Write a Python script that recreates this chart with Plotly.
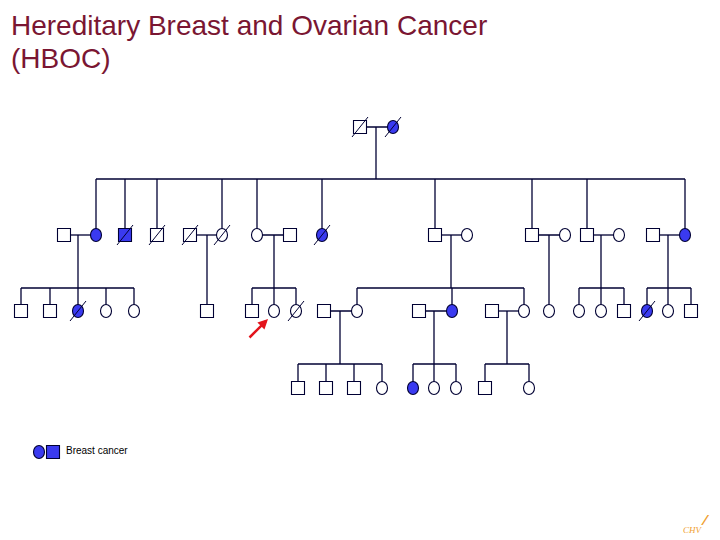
import plotly.graph_objects as go

# ---------------- data ----------------
title_lines = ["Hereditary Breast and Ovarian Cancer", "(HBOC)"]
legend_label = "Breast cancer"

gen_y = [127, 235, 311, 388]          # row of each generation
sib_y = [179, 288, 364]               # sibship line below generation g

# individuals
ind_x   = [360, 393,
           64, 96, 125, 157, 190, 222, 257, 290, 322, 435, 467, 532, 565, 587, 619, 653, 685,
           21, 50, 78, 106, 134, 207, 252, 274, 296, 324, 357, 419, 452, 492, 524, 549, 579, 601, 624, 647, 668, 691,
           298, 326, 354, 382, 413, 434, 456, 485, 529]
ind_gen = [0, 0,
           1, 1, 1, 1, 1, 1, 1, 1, 1, 1, 1, 1, 1, 1, 1, 1, 1,
           2, 2, 2, 2, 2, 2, 2, 2, 2, 2, 2, 2, 2, 2, 2, 2, 2, 2, 2, 2, 2, 2,
           3, 3, 3, 3, 3, 3, 3, 3, 3]
ind_sex = ["M", "F",
           "M", "F", "M", "M", "M", "F", "F", "M", "F", "M", "F", "M", "F", "M", "F", "M", "F",
           "M", "M", "F", "F", "F", "M", "M", "F", "F", "M", "F", "M", "F", "M", "F", "F", "F", "F", "M", "F", "F", "M",
           "M", "M", "M", "F", "F", "F", "F", "M", "F"]
ind_aff = [0, 1,
           0, 1, 1, 0, 0, 0, 0, 0, 1, 0, 0, 0, 0, 0, 0, 0, 1,
           0, 0, 1, 0, 0, 0, 0, 0, 0, 0, 0, 0, 1, 0, 0, 0, 0, 0, 0, 1, 0, 0,
           0, 0, 0, 0, 1, 0, 0, 0, 0]
ind_dec = [1, 1,
           0, 0, 1, 1, 1, 1, 0, 0, 1, 0, 0, 0, 0, 0, 0, 0, 0,
           0, 0, 1, 0, 0, 0, 0, 0, 1, 0, 0, 0, 0, 0, 0, 0, 0, 0, 0, 1, 0, 0,
           0, 0, 0, 0, 0, 0, 0, 0, 0]

# marriages: partner x positions, generation, x of the line down to children
mar_a    = [360, 64, 190, 257, 435, 532, 587, 653, 324, 419, 492]
mar_b    = [393, 96, 222, 290, 467, 565, 619, 685, 357, 452, 524]
mar_gen  = [0, 1, 1, 1, 1, 1, 1, 1, 2, 2, 2]
mar_drop = [376, 78, 207, 274, 451, 549, 601, 668, 340, 434, 507]

# children of each marriage (x positions in the next generation)
sib_children = [
    [96, 125, 157, 222, 257, 322, 435, 532, 587, 685],
    [21, 50, 78, 106, 134],
    [207],
    [252, 274, 296],
    [357, 452, 524],
    [549],
    [579, 601, 624],
    [647, 668, 691],
    [298, 326, 354, 382],
    [413, 434, 456],
    [485, 529],
]

proband_x, proband_gen = 274, 2
legend_sym_x = [39, 53]
legend_sym_sex = ["F", "M"]
legend_y = 452

# ---------------- style ----------------
LINE = "#000033"
BLUE = "#3a3af0"
SQ = 6.5          # half side of square
EW, EH = 5.5, 6.5 # half axes of ellipse
PAGE_OFF = 8      # page body margin of the html page

fig = go.Figure()

# connecting lines
lx, ly = [], []
for a, b, g, d, kids in zip(mar_a, mar_b, mar_gen, mar_drop, sib_children):
    y0 = gen_y[g]
    lx += [a, b, None]; ly += [y0, y0, None]
    sy = sib_y[g]
    lx += [d, d, None]; ly += [y0, sy, None]
    lo, hi = min(kids + [d]), max(kids + [d])
    lx += [lo, hi, None]; ly += [sy, sy, None]
    for k in kids:
        lx += [k, k, None]; ly += [sy, gen_y[g + 1], None]

fig.add_trace(go.Scatter(x=lx, y=ly, mode="lines",
                         line=dict(color=LINE, width=1.3),
                         hoverinfo="skip", showlegend=False))

shapes = []
def symbol(x, y, sex, fill):
    if sex == "M":
        shapes.append(dict(type="rect", xref="x", yref="y",
                           x0=x - SQ, x1=x + SQ, y0=y - SQ, y1=y + SQ,
                           line=dict(color=LINE, width=1.1), fillcolor=fill))
    else:
        shapes.append(dict(type="circle", xref="x", yref="y",
                           x0=x - EW, x1=x + EW, y0=y - EH, y1=y + EH,
                           line=dict(color=LINE, width=1.1), fillcolor=fill))

for x, g, s, a in zip(ind_x, ind_gen, ind_sex, ind_aff):
    symbol(x, gen_y[g], s, BLUE if a else "white")

for x, g, dd in zip(ind_x, ind_gen, ind_dec):
    if dd:
        y = gen_y[g]
        shapes.append(dict(type="line", xref="x", yref="y",
                           x0=x - 8, y0=y + 10, x1=x + 8, y1=y - 10,
                           line=dict(color=LINE, width=1.0)))

for x, s in zip(legend_sym_x, legend_sym_sex):
    symbol(x, legend_y, s, BLUE)

TITLE_FONT = dict(family="Liberation Sans, Arial", size=28, color="#7a1632")
annotations = [
    dict(x=9, y=25, xref="x", yref="y", text=title_lines[0], showarrow=False,
         xanchor="left", yanchor="middle", font=TITLE_FONT),
    dict(x=9, y=58, xref="x", yref="y", text=title_lines[1], showarrow=False,
         xanchor="left", yanchor="middle", font=TITLE_FONT),
    dict(x=64, y=450, xref="x", yref="y", text=legend_label, showarrow=False,
         xanchor="left", yanchor="middle",
         font=dict(family="Liberation Sans, Arial", size=10, color="black")),
    dict(x=proband_x - 6, y=gen_y[proband_gen] + 8, xref="x", yref="y",
         ax=proband_x - 26, ay=gen_y[proband_gen] + 28, axref="x", ayref="y",
         text="", showarrow=True, arrowhead=2, arrowsize=0.8, arrowwidth=2.5,
         arrowcolor="#e3141c"),
    dict(x=693, y=530, xref="x", yref="y", text="<i>CHV</i>", showarrow=False,
         xanchor="center", yanchor="middle",
         font=dict(family="Liberation Serif, Times New Roman", size=9, color="#f0a030")),
    dict(x=705, y=520, xref="x", yref="y", text="<b>⁄</b>", showarrow=False,
         xanchor="center", yanchor="middle",
         font=dict(family="DejaVu Sans", size=14, color="#f0a030")),
]

fig.update_layout(
    width=720 - PAGE_OFF, height=540 - PAGE_OFF,
    margin=dict(l=0, r=0, t=0, b=0),
    paper_bgcolor="white", plot_bgcolor="white",
    xaxis=dict(range=[PAGE_OFF, 720], visible=False, fixedrange=True),
    yaxis=dict(range=[540, PAGE_OFF], visible=False, fixedrange=True),
    shapes=shapes, annotations=annotations,
    showlegend=False,
)

fig.write_html("out.html")
